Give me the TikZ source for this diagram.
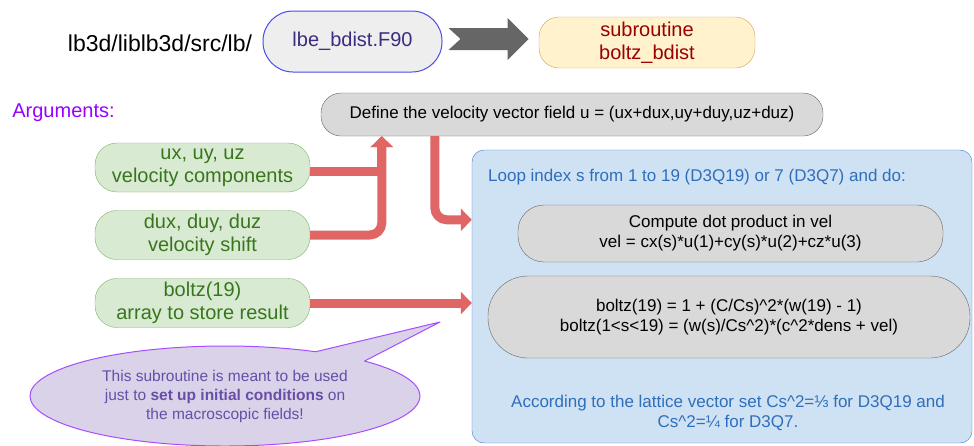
\documentclass[tikz,border=0pt]{standalone}
\usepackage{fontspec}
\setmainfont{Liberation Sans}
\usetikzlibrary{arrows.meta,shapes.callouts}
\definecolor{fileline}{HTML}{4A4AF0}
\definecolor{filefill}{HTML}{EEEEEE}
\definecolor{filetext}{HTML}{3D2B7E}
\definecolor{subline}{HTML}{D6A05A}
\definecolor{subfill}{HTML}{FFF2CC}
\definecolor{subtext}{HTML}{990000}
\definecolor{boxline}{HTML}{666666}
\definecolor{boxfill}{HTML}{D9D9D9}
\definecolor{argline}{HTML}{82B366}
\definecolor{argfill}{HTML}{D9EAD3}
\definecolor{argtext}{HTML}{38761D}
\definecolor{argpurple}{HTML}{9900FF}
\definecolor{loopline}{HTML}{3C78D8}
\definecolor{loopfill}{HTML}{CFE2F3}
\definecolor{looptext}{HTML}{2F6EBA}
\definecolor{feedred}{HTML}{E06666}
\definecolor{bigarrow}{HTML}{666666}
\definecolor{bubline}{HTML}{A64DFF}
\definecolor{bubfill}{HTML}{D9D2E9}
\definecolor{bubtext}{HTML}{674EA7}
\begin{document}
\begin{tikzpicture}[x=1pt,y=-1pt,line join=round,
  every node/.style={inner sep=0pt,align=center},
  argbox/.style={draw=argline,fill=argfill,text=argtext,rounded corners=22pt,
    minimum width=215pt,minimum height=49pt,font=\fontsize{20}{23}\selectfont},
  graybox/.style={draw=boxline,fill=boxfill,font=\fontsize{17}{20}\selectfont},
  feed/.style={draw=feedred,line width=9pt,-{Triangle[length=11pt,width=22pt]}}]
\useasboundingbox (0,0) rectangle (974,445);
% top row
\node[font=\fontsize{23}{27}\selectfont] (path) at (160,43) {lb3d/liblb3d/src/lb/};
\node[draw=fileline,fill=filefill,text=filetext,rounded corners=30pt,line width=1pt,
  minimum width=179pt,minimum height=61pt,font=\fontsize{20}{23}\selectfont] (file) at (352.5,41.5) {lbe\_bdist.F90};
\node[draw=subline,fill=subfill,text=subtext,rounded corners=20pt,
  minimum width=216pt,minimum height=51pt,font=\fontsize{20}{23}\selectfont] (sub) at (647,42.5) {subroutine\\boltz\_bdist};
\coordinate (tail) at ([xshift=6pt,yshift=2.5pt]file.east);
\fill[bigarrow] (tail) ++(0,-11) -- ++(59,0) -- ++(0,-10) -- ++(21,21) -- ++(-21,21)
  -- ++(0,-10) -- ++(-59,0) -- ++(12,-11) -- cycle;
% arguments
\node[text=argpurple,font=\fontsize{20}{23}\selectfont] (args) at (63.5,113) {Arguments:};
\node[argbox] (vel) at (202.5,167.5) {ux, uy, uz\\velocity components};
\node[argbox] (shift) at (202.5,235) {dux, duy, duz\\velocity shift};
\node[argbox] (res) at (202.5,303) {boltz(19)\\array to store result};
\node[graybox,rounded corners=20pt,minimum width=502pt,minimum height=43pt] (def) at (572,114.5)
  {Define the velocity vector field u = (ux+dux,uy+duy,uz+duz)};
% loop
\node[draw=loopline,fill=loopfill,rounded corners=12pt,minimum width=500pt,minimum height=293pt] (loop) at (722,296.5) {};
\node[anchor=west,text=looptext,font=\fontsize{17}{20}\selectfont] (looptxt) at (488,177)
  {Loop index s from 1 to 19 (D3Q19) or 7 (D3Q7) and do:};
\node[graybox,rounded corners=26pt,minimum width=425pt,minimum height=57pt] (dot) at (730.5,233.5)
  {Compute dot product in vel\\vel = cx(s)*u(1)+cy(s)*u(2)+cz*u(3)};
\node[graybox,rounded corners=40pt,minimum width=482pt,minimum height=82pt] (eq) at (729,317)
  {boltz(19) = 1 + (C/Cs)\textasciicircum 2*(w(19) - 1)\\
   boltz(1<s<19) = (w(s)/Cs\textasciicircum 2)*(c\textasciicircum 2*dens + vel)};
\node[text=looptext,font=\fontsize{17}{20}\selectfont] (note) at (728,413)
  {According to the lattice vector set Cs\textasciicircum 2=⅓ for D3Q19 and\\Cs\textasciicircum 2=¼ for D3Q7.};
% connectors
\draw[feed] ([yshift=-4pt]vel.east) -| ([xshift=61pt]def.south west);
\draw[feed,rounded corners=12pt] (shift.east) -| ([xshift=61pt]def.south west);
\draw[feed] (res.east) -- (res.east -| loop.west);
\draw[feed,rounded corners=12pt] ([xshift=114pt]def.south west) |- ([yshift=-70pt]loop.north west);
% hint
\node[ellipse callout,draw=bubline,fill=bubfill,text=bubtext,line width=1pt,
  minimum width=390pt,minimum height=100pt,callout absolute pointer={(440,322)},callout pointer arc=18,
  font=\fontsize{15.5}{19}\selectfont] (hint) at (225,396)
  {This subroutine is meant to be used\\just to \textbf{set up initial conditions} on\\the macroscopic fields!};
\end{tikzpicture}
\end{document}
